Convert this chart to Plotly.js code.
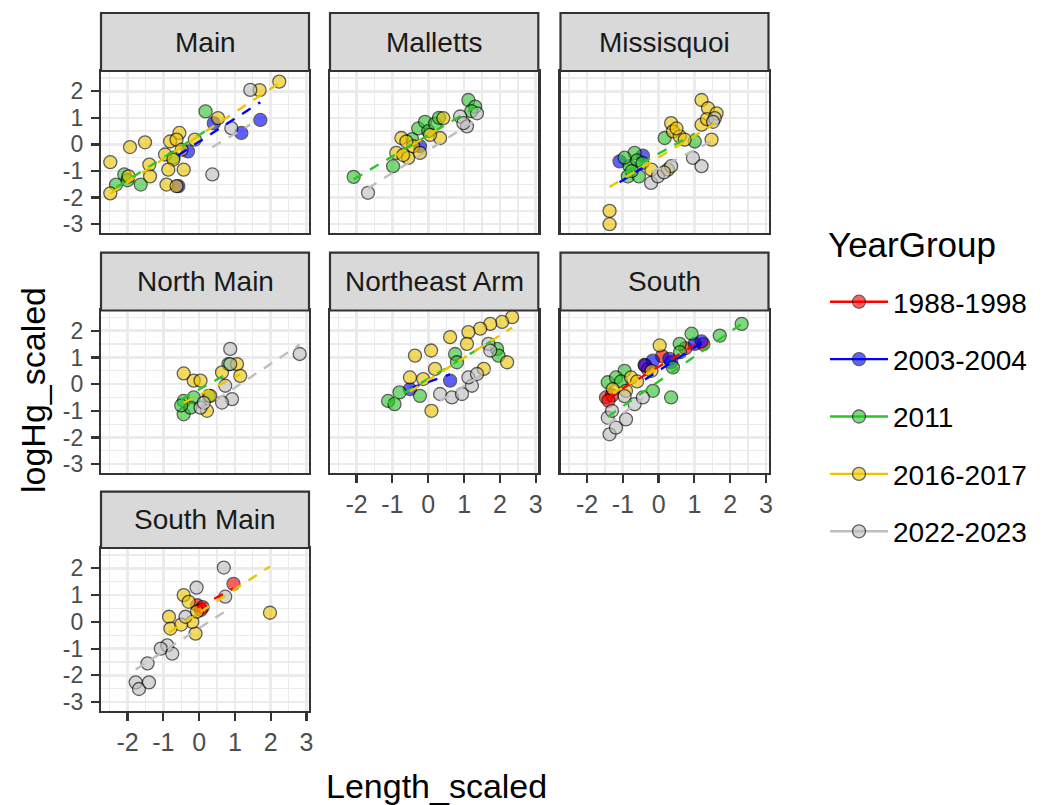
<!DOCTYPE html>
<html><head><meta charset="utf-8">
<script src="https://cdn.plot.ly/plotly-3.0.1.min.js"></script>
<style>html,body{margin:0;padding:0;background:#fff}</style>
</head><body><div id="chart" style="width:1051px;height:805px"></div>
<script>
// ---------- data ----------
const sites = ["Main","Malletts","Missisquoi","North Main","Northeast Arm","South","South Main"];
const yearGroups = ["1988-1998","2003-2004","2011","2016-2017","2022-2023"];

// 1988-1998
const site1988 = ["South","South","South","South","South","South","South","South",
  "South Main","South Main","South Main","South Main"];
const len1988 = [-1.47,-1.30,-1.40,-0.39,-0.30,0.10,0.75,1.25, 0.96,-0.05,0.10,0.05];
const hg1988  = [-0.50,-0.42,-0.62,0.72,0.55,1.05,1.35,1.50, 1.42,0.62,0.55,0.45];

// 2003-2004
const site2003 = ["Main","Main","Main","Main","Main","Malletts","Missisquoi","Missisquoi",
  "Northeast Arm","Northeast Arm","South","South","South","South","South","South"];
const len2003 = [0.41,-0.31,-0.58,1.18,1.71,-0.23,-1.09,-0.44,-0.51,0.61,-0.16,-0.38,0.35,0.30,1.01,1.20];
const hg2003  = [0.80,-0.26,-1.57,0.43,0.92,-0.07,-0.64,-0.42,-0.19,0.13,0.88,0.70,0.82,0.95,1.51,1.60];

// 2011
const site2011 = ["Main","Main","Main","Main","Main","Main",
  "Malletts","Malletts","Malletts","Malletts","Malletts","Malletts","Malletts","Malletts","Malletts","Malletts","Malletts",
  "Missisquoi","Missisquoi","Missisquoi","Missisquoi","Missisquoi","Missisquoi","Missisquoi","Missisquoi","Missisquoi","Missisquoi",
  "North Main","North Main","North Main","North Main","North Main","North Main","North Main",
  "Northeast Arm","Northeast Arm","Northeast Arm","Northeast Arm","Northeast Arm","Northeast Arm","Northeast Arm","Northeast Arm",
  "South","South","South","South","South","South","South","South","South","South","South","South"];
const len2011 = [0.18,-2.09,-2.32,-1.63,-2.00,-0.72,
  -2.08,-0.98,-0.45,-0.28,-0.09,0.00,0.19,0.30,1.12,1.31,1.20,
  0.17,1.01,-0.67,-0.81,-0.86,-0.60,-0.45,-0.95,-0.55,-0.75,
  -0.43,-0.43,-0.15,-0.24,-0.50,0.82,0.27,
  -1.12,-0.94,-0.80,-0.23,0.75,0.80,1.92,1.96,
  2.32,1.71,0.92,0.59,0.35,0.40,-1.42,-0.95,-1.19,-1.05,-0.16,0.60];
const hg2011 = [1.24,-1.13,-1.51,-1.51,-1.35,-0.50,
  -1.22,-0.82,0.20,0.60,0.85,0.50,0.78,1.00,1.67,1.42,1.25,
  0.24,0.11,-0.32,-0.82,-1.20,-0.60,-0.70,-0.50,-1.20,-1.00,
  -0.63,-1.13,-0.50,-0.88,-0.80,0.75,-0.44,
  -0.63,-0.75,-0.31,-0.44,1.13,0.82,1.32,1.07,
  2.26,1.82,1.89,1.51,-0.50,0.63,0.07,0.50,0.25,0.10,-0.25,1.20];

// 2016-2017
const site2016 = [
  "Main","Main","Main","Main","Main","Main","Main","Main","Main","Main","Main","Main","Main","Main","Main","Main","Main","Main","Main","Main","Main",
  "Malletts","Malletts","Malletts","Malletts","Malletts","Malletts","Malletts","Malletts","Malletts","Malletts",
  "Missisquoi","Missisquoi","Missisquoi","Missisquoi","Missisquoi","Missisquoi","Missisquoi","Missisquoi","Missisquoi","Missisquoi","Missisquoi","Missisquoi","Missisquoi","Missisquoi","Missisquoi",
  "North Main","North Main","North Main","North Main","North Main","North Main","North Main","North Main",
  "Northeast Arm","Northeast Arm","Northeast Arm","Northeast Arm","Northeast Arm","Northeast Arm","Northeast Arm","Northeast Arm","Northeast Arm","Northeast Arm","Northeast Arm","Northeast Arm","Northeast Arm","Northeast Arm","Northeast Arm",
  "South","South","South","South","South","South",
  "South Main","South Main","South Main","South Main","South Main","South Main","South Main","South Main","South Main"];
const len2016 = [
  -2.48,-2.48,-1.93,-1.51,-1.39,-1.37,-1.97,-0.95,-0.81,-0.55,-0.63,-0.72,-0.86,-0.43,-0.91,-0.63,-0.12,0.53,1.69,2.24,-0.49,
  -0.75,0.42,0.33,-0.89,-0.56,-0.42,-0.61,-0.23,0.05,-0.70,
  -1.37,-1.37,1.20,1.38,1.62,0.35,0.40,0.59,0.73,1.20,1.48,1.35,0.26,-0.20,0.50,
  -0.43,-0.15,0.04,0.64,1.06,1.15,0.22,0.31,
  2.34,2.06,1.73,1.45,1.12,0.61,1.08,-0.37,0.08,0.19,-0.51,-0.14,0.09,2.20,1.55,
  0.03,-0.77,-1.28,-0.91,-0.20,-0.60,
  -0.43,-0.84,-0.80,-0.10,-0.19,-0.06,1.98,-0.29,-0.50];
const hg2016 = [
  -0.67,-1.84,-0.10,0.08,-0.76,-1.20,-1.20,-0.38,0.11,0.43,0.18,-0.57,-0.95,-0.95,-1.51,-1.57,0.18,0.99,2.04,2.36,-0.20,
  0.24,0.99,0.24,-0.32,-0.51,-0.07,0.11,-0.32,0.36,-0.40,
  -2.50,-3.00,1.67,1.36,1.17,0.80,0.49,0.30,0.18,0.74,0.18,0.95,-0.95,-0.95,0.60,
  0.40,0.13,0.13,0.44,0.75,0.31,-1.00,-0.44,
  2.51,2.33,2.26,2.08,1.95,1.76,1.51,1.07,1.26,0.57,0.25,0.19,-1.00,0.82,0.57,
  1.45,0.25,-0.19,-0.25,0.50,0.10,
  1.00,0.19,-0.25,-0.44,0.00,0.38,0.34,0.75,-0.10];

// 2022-2023
const site2022 = ["Main","Main","Main",
  "Malletts","Malletts","Malletts","Malletts","Malletts",
  "Missisquoi","Missisquoi","Missisquoi","Missisquoi","Missisquoi","Missisquoi","Missisquoi","Missisquoi",
  "North Main","North Main","North Main","North Main","North Main","North Main","North Main","North Main",
  "Northeast Arm","Northeast Arm","Northeast Arm","Northeast Arm","Northeast Arm","Northeast Arm","Northeast Arm","Northeast Arm",
  "South","South","South","South","South","South","South","South",
  "South Main","South Main","South Main","South Main","South Main","South Main","South Main","South Main","South Main","South Main","South Main"];
const len2022 = [1.43,0.37,0.90,
  -1.68,0.89,1.08,1.36,0.98,
  -0.21,-0.02,0.35,0.96,1.20,1.57,1.52,0.15,
  0.87,2.81,0.92,0.64,0.73,0.04,0.13,0.87,
  0.33,0.66,0.94,1.22,1.12,1.36,1.68,1.73,
  -1.42,-1.37,-1.19,-0.91,-0.67,-1.30,-0.44,-0.95,
  0.69,-0.07,0.73,-0.38,-0.89,-1.07,-0.75,-1.44,-1.77,-1.68,-1.40];
const hg2022 = [2.05,-1.13,0.61,
  -1.82,1.05,0.68,1.17,0.80,
  -1.45,-1.20,-0.82,-0.51,-0.82,0.99,0.85,-1.05,
  1.32,1.13,-0.56,-0.69,-0.06,-0.88,-0.70,0.75,
  -0.37,-0.50,-0.37,-0.06,0.25,0.38,1.51,1.26,
  -1.26,-1.88,-1.63,-1.32,-0.75,-1.00,-0.50,-0.45,
  2.03,1.28,0.94,0.19,-0.88,-1.00,-1.19,-1.55,-2.26,-2.51,-2.26];

// fitted model lines (site, group, intercept, slope)
const fitSite = ["Main","Main","Main","Main","Malletts","Malletts","Malletts",
  "Missisquoi","Missisquoi","Missisquoi","Missisquoi","North Main","North Main","North Main",
  "Northeast Arm","Northeast Arm","Northeast Arm","Northeast Arm",
  "South","South","South","South","South","South Main","South Main","South Main"];
const fitGroup = ["2003-2004","2011","2016-2017","2022-2023","2011","2016-2017","2022-2023",
  "2003-2004","2011","2016-2017","2022-2023","2011","2016-2017","2022-2023",
  "2003-2004","2011","2016-2017","2022-2023",
  "1988-1998","2003-2004","2011","2016-2017","2022-2023","1988-1998","2016-2017","2022-2023"];
const fitIntercept = [0.10,0.35,0.33,-0.40,0.35,0.35,-0.22,
  -0.50,-0.35,-0.49,-0.91,-0.20,-0.41,-1.02,
  0.08,0.20,0.15,-0.90,
  0.65,0.50,0.10,0.62,-0.10,0.57,0.34,-0.24];
const fitSlope = [0.87,0.85,0.88,0.80,0.80,0.85,0.85,
  0.85,0.75,0.81,0.70,0.75,0.68,0.89,
  0.47,0.80,0.84,0.83,
  0.81,0.87,0.93,0.75,1.00,0.70,0.875,0.87];

const xTicks = [-2,-1,0,1,2,3];
const yTicks = [-3,-2,-1,0,1,2];

// ---------- style ----------
const groupColors = ["#FF0000","#0000FF","#2DC42D","#EDC400","#BEBEBE"];
const FONT = "Liberation Sans, Arial, sans-serif";
const W = 1051, H = 805;
const colPx = [[101,309],[330,538.3],[560.5,768.5]];
const rowPx = [[71,232.7],[310.5,472.7],[548,710.7]];
const stripPx = [[13,71],[252.7,310.5],[491.7,548]];
const xRange = [-2.74,3.07], yRange = [-3.32,2.76];

const groupSites = [site1988,site2003,site2011,site2016,site2022];
const groupLen = [len1988,len2003,len2011,len2016,len2022];
const groupHg = [hg1988,hg2003,hg2011,hg2016,hg2022];

const suf = i => i === 0 ? "" : String(i+1);
const fx = p => p / W;
const fy = p => 1 - p / H;

function pointsOf(si, gi) {
  const xs = [], ys = [];
  groupSites[gi].forEach((s,k) => { if (s === sites[si]) { xs.push(groupLen[gi][k]); ys.push(groupHg[gi][k]); } });
  return {xs, ys};
}

const traces = [];
// points
yearGroups.forEach((g,gi) => {
  sites.forEach((s,si) => {
    const p = pointsOf(si, gi);
    if (!p.xs.length) return;
    traces.push({type:"scatter", mode:"markers", x:p.xs, y:p.ys,
      xaxis:"x"+suf(si), yaxis:"y"+suf(si), showlegend:false, hoverinfo:"skip",
      marker:{size:13, color:groupColors[gi], opacity:0.62, line:{color:"#000", width:1.3}}});
  });
});
// fitted lines
fitSite.forEach((s,k) => {
  const si = sites.indexOf(s), gi = yearGroups.indexOf(fitGroup[k]);
  const p = pointsOf(si, gi);
  const x0 = Math.min(...p.xs), x1 = Math.max(...p.xs);
  traces.push({type:"scatter", mode:"lines", x:[x0,x1],
    y:[fitIntercept[k]+fitSlope[k]*x0, fitIntercept[k]+fitSlope[k]*x1],
    xaxis:"x"+suf(si), yaxis:"y"+suf(si), showlegend:false, hoverinfo:"skip",
    line:{color:groupColors[gi], width:2.4, dash:"10px,9px"}});
});
// legend entries
yearGroups.forEach((g,gi) => {
  traces.push({type:"scatter", mode:"lines+markers", x:[null], y:[null], name:g, legendgroup:g,
    showlegend:true, hoverinfo:"skip",
    line:{color:groupColors[gi], width:2.4},
    marker:{size:13, color:groupColors[gi], opacity:0.62, line:{color:"#000", width:1.3}}});
});

const layout = {
  width:W, height:H, margin:{l:0,r:0,t:0,b:0},
  paper_bgcolor:"#fff", plot_bgcolor:"#fff",
  font:{family:FONT, color:"#000"},
  showlegend:true,
  legend:{x:fx(825), xanchor:"left", y:fy(277), yanchor:"top",
    font:{family:FONT, size:28, color:"#000"},
    tracegroupgap:18, traceorder:"grouped", bgcolor:"rgba(0,0,0,0)", itemwidth:58},
  shapes:[], annotations:[]
};

sites.forEach((s,si) => {
  const col = si % 3, row = Math.floor(si / 3);
  const showX = (si >= 4);
  const showY = (col === 0);
  const common = {showline:true, mirror:true, linecolor:"#333333", linewidth:2.2,
    showgrid:true, gridcolor:"#EBEBEB", gridwidth:2.6, zeroline:false, fixedrange:true,
    minor:{dtick:0.5, tick0:0, showgrid:true, gridcolor:"#EBEBEB", gridwidth:1.3, ticks:""},
    tickcolor:"#333333", tickwidth:2.2, ticklen:8};
  layout["xaxis"+suf(si)] = Object.assign({}, common, {
    domain:[fx(colPx[col][0]), fx(colPx[col][1])], range:xRange, anchor:"y"+suf(si),
    tickmode:"array", tickvals:xTicks, ticktext:xTicks.map(String),
    tickfont:{family:FONT, size:25, color:"#4D4D4D"},
    ticks: showX ? "outside" : "", showticklabels: showX});
  layout["yaxis"+suf(si)] = Object.assign({}, common, {
    domain:[fy(rowPx[row][1]), fy(rowPx[row][0])], range:yRange, anchor:"x"+suf(si),
    tickmode:"array", tickvals:yTicks, ticktext:yTicks.map(String), ticklabelstandoff:3,
    tickfont:{family:FONT, size:23, color:"#4D4D4D"},
    ticks: showY ? "outside" : "", showticklabels: showY});
  layout.shapes.push({type:"rect", xref:"paper", yref:"paper",
    x0:fx(colPx[col][0]), x1:fx(colPx[col][1]), y0:fy(stripPx[row][1]), y1:fy(stripPx[row][0]),
    fillcolor:"#D9D9D9", line:{color:"#333333", width:2.2}});
  layout.annotations.push({xref:"paper", yref:"paper", showarrow:false,
    x:fx((colPx[col][0]+colPx[col][1])/2), y:fy((stripPx[row][0]+stripPx[row][1])/2),
    xanchor:"center", yanchor:"middle", text:s, font:{family:FONT, size:28, color:"#1A1A1A"}});
});

layout.annotations.push({xref:"paper", yref:"paper", showarrow:false, text:"YearGroup",
  x:fx(826), y:fy(244), xanchor:"left", yanchor:"middle", font:{family:FONT, size:35, color:"#000"}});
layout.annotations.push({xref:"paper", yref:"paper", showarrow:false, text:"Length_scaled",
  x:fx(436), y:fy(786), xanchor:"center", yanchor:"middle", font:{family:FONT, size:34, color:"#000"}});
layout.annotations.push({xref:"paper", yref:"paper", showarrow:false, text:"logHg_scaled", textangle:-90,
  x:fx(33), y:fy(390), xanchor:"center", yanchor:"middle", font:{family:FONT, size:34, color:"#000"}});

Plotly.newPlot("chart", traces, layout, {staticPlot:true, displayModeBar:false});
</script>
</body></html>
